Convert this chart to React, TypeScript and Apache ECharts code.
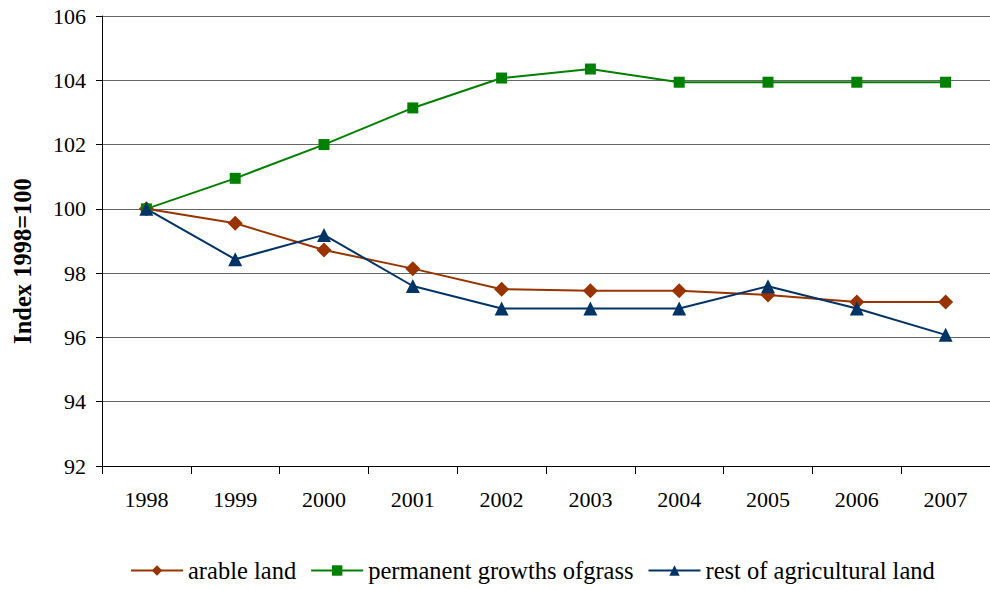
import React, { useEffect, useRef } from "react";
import * as echarts from "echarts";

const years = ["1998", "1999", "2000", "2001", "2002", "2003", "2004", "2005", "2006", "2007"];
const arableLand = [100, 99.55, 98.72, 98.14, 97.5, 97.45, 97.45, 97.32, 97.1, 97.1];
const permanentGrass = [100, 100.95, 102.0, 103.14, 104.07, 104.35, 103.94, 103.94, 103.94, 103.94];
const restAgricultural = [100, 98.43, 99.19, 97.6, 96.9, 96.9, 96.9, 97.59, 96.9, 96.08];
const seriesNames = ["arable land", "permanent growths ofgrass", "rest of agricultural land"];
const seriesColors = ["#993300", "#008000", "#003366"];
const yTitle = "Index 1998=100";

const FONT = "Liberation Serif";

export default function App() {
  const ref = useRef<HTMLDivElement>(null);
  useEffect(() => {
    if (!ref.current) return;
    const chart = echarts.init(ref.current, undefined, { renderer: "svg" });
    const mk = (name: string, data: number[], color: string, symbol: string, size: number) => ({
      name,
      type: "line",
      data,
      symbol,
      symbolSize: size,
      showAllSymbol: true,
      lineStyle: { color, width: 2 },
      itemStyle: { color },
      z: 3,
    });
    chart.setOption({
      animation: false,
      backgroundColor: "#ffffff",
      textStyle: { fontFamily: FONT },
      grid: { left: 102, top: 16, right: -7, bottom: 124 },
      legend: {
        bottom: 2,
        left: 125,
        itemWidth: 52,
        itemHeight: 13,
        itemGap: 14,
        textStyle: { fontFamily: FONT, fontSize: 24.5, color: "#000" },
        data: seriesNames,
      },
      graphic: [
        {
          type: "text",
          x: 22,
          y: 261,
          rotation: Math.PI / 2,
          style: {
            text: yTitle,
            fontFamily: FONT,
            fontSize: 24.5,
            fontWeight: "bold",
            fill: "#000",
            align: "center",
            verticalAlign: "middle",
          },
        },
      ],
      xAxis: {
        type: "category",
        data: years,
        boundaryGap: true,
        axisLine: { lineStyle: { color: "#000", width: 1 } },
        axisTick: { show: true, length: 8, lineStyle: { color: "#000" } },
        axisLabel: { fontFamily: FONT, fontSize: 22, color: "#000", margin: 22 },
      },
      yAxis: {
        type: "value",
        min: 92,
        max: 106,
        interval: 2,
        axisLine: { show: true, lineStyle: { color: "#000", width: 1 } },
        axisTick: { show: true, length: 6, lineStyle: { color: "#000" } },
        axisLabel: { fontFamily: FONT, fontSize: 22, color: "#000", margin: 16 },
        splitLine: { show: true, lineStyle: { color: "#666", width: 1 } },
      },
      series: [
        mk(seriesNames[0], arableLand, seriesColors[0], "diamond", 15),
        mk(seriesNames[1], permanentGrass, seriesColors[1], "rect", 11),
        mk(seriesNames[2], restAgricultural, seriesColors[2], "triangle", 14),
      ],
    });
    return () => chart.dispose();
  }, []);
  return (
    <div
      ref={ref}
      style={{ position: "absolute", left: 0, top: 0, width: 990, height: 590 }}
    />
  );
}
